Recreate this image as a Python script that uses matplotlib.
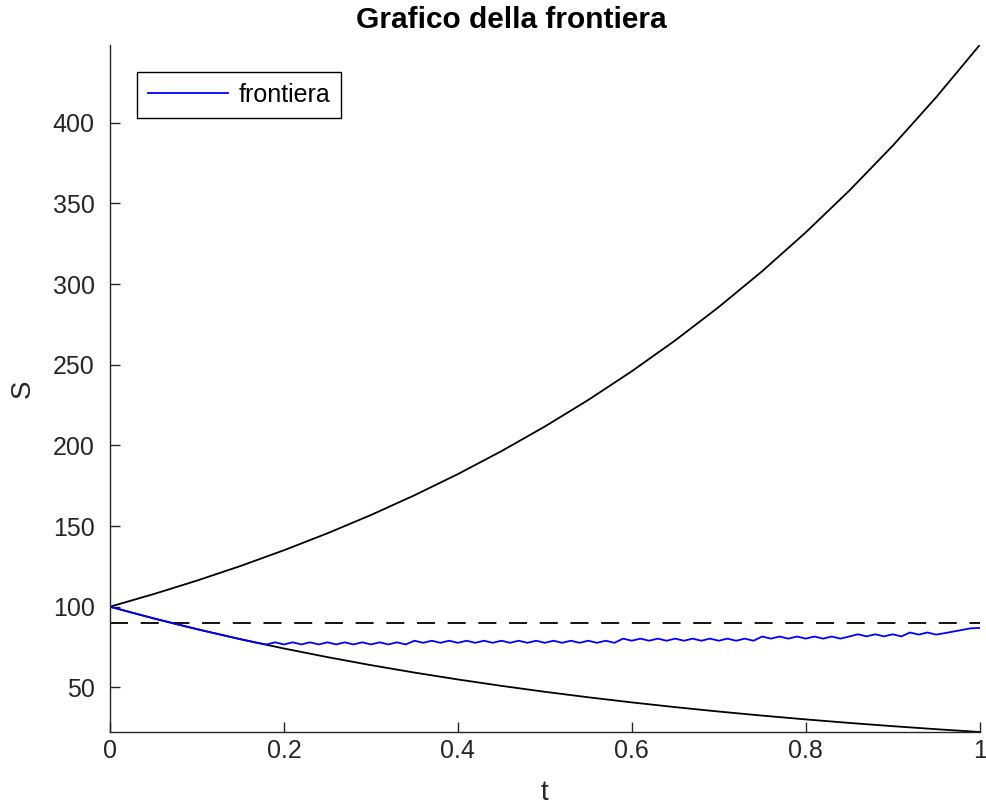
import matplotlib
matplotlib.use('Agg')
import matplotlib.pyplot as plt
import numpy as np

# boundary curves, sampled every 0.05
t_bound = [0.0, 0.05, 0.1, 0.15, 0.2, 0.25, 0.3, 0.35, 0.4, 0.45, 0.5,
           0.55, 0.6, 0.65, 0.7, 0.75, 0.8, 0.85, 0.9, 0.95, 1.0]
s_up = [100.0, 107.79, 116.18, 125.23, 134.99, 145.50, 156.83, 169.05, 182.21, 196.40, 211.70,
        228.18, 245.96, 265.12, 285.77, 308.02, 332.01, 357.87, 385.74, 415.79, 448.17]
s_down = [100.0, 92.77, 86.07, 79.85, 74.08, 68.73, 63.76, 59.16, 54.88, 50.92, 47.24,
          43.83, 40.66, 37.72, 34.99, 32.47, 30.12, 27.94, 25.92, 24.05, 22.31]

# strike line
t_strike = [0.0, 1.0]
s_strike = [90.0, 90.0]

# frontier, one value every 0.01
t_front = [i / 100 for i in range(101)]
s_front = [100.0, 98.51, 97.04, 95.60, 94.18, 92.77, 91.39, 90.03, 88.69, 87.36,
           86.07, 84.79, 83.53, 82.28, 81.06, 79.85, 78.66, 77.48,
           76.6, 77.9, 76.6, 77.9, 76.6, 77.9, 76.6, 77.9, 76.6, 77.9,
           76.6, 77.9, 76.6, 77.9, 76.6, 77.9, 76.6,
           78.9, 77.6, 78.9, 77.6, 78.9, 77.6, 78.9, 77.6, 78.9, 77.6,
           78.9, 77.6, 78.9, 77.6, 78.9, 77.6, 78.9, 77.6, 78.9, 77.6,
           78.9, 77.6, 78.9, 77.6,
           80.2, 78.9, 80.2, 78.9, 80.2, 78.9, 80.2, 78.9, 80.2, 78.9,
           80.2, 78.9, 80.2, 78.9, 80.2, 78.9,
           81.5, 80.2, 81.5, 80.2, 81.5, 80.2, 81.5, 80.2, 81.5, 80.2, 81.5,
           82.9, 81.6, 82.9, 81.6, 82.9, 81.6,
           84.0, 82.7, 84.0, 82.7, 83.6,
           84.6, 85.6, 86.6, 86.8]

plt.rcParams['font.family'] = ['Liberation Sans', 'DejaVu Sans']

fig = plt.figure(figsize=(9.87, 8.10), dpi=100)
ax = fig.add_axes([0.1115, 0.0963, 0.881, 0.848])

ax.plot(t_bound, s_up, color='black', lw=1.3)
ax.plot(t_bound, s_down, color='black', lw=1.3)
ax.plot(t_strike, s_strike, color='black', lw=1.3, dashes=(10, 7))
ax.plot(t_front, s_front, color='#0000ff', lw=1.3, label='frontiera')

ax.set_xlim(0, 1)
ax.set_ylim(22.31, 448.17)
ax.set_xticks([0, 0.2, 0.4, 0.6, 0.8, 1])
ax.set_xticklabels(['0', '0.2', '0.4', '0.6', '0.8', '1'])
ax.set_yticks([50, 100, 150, 200, 250, 300, 350, 400])

for side in ['top', 'right']:
    ax.spines[side].set_visible(False)
for side in ['left', 'bottom']:
    ax.spines[side].set_color('#262626')
    ax.spines[side].set_linewidth(1.0)

ax.tick_params(direction='in', length=7, width=1, colors='#262626', labelsize=18,
               labelcolor='#262626')
ax.tick_params(axis='x', pad=5)
ax.tick_params(axis='y', pad=11)

# title sits a bit left of the axes centre, like the original
fig.text(0.518, 1 - 20 / 810, 'Grafico della frontiera', fontsize=21.5,
         fontweight='bold', ha='center', va='center')
ax.set_xlabel('t', fontsize=20, color='#262626', labelpad=12)
ax.set_ylabel('S', fontsize=20, color='#262626', labelpad=12)

leg = ax.legend(loc='upper left', bbox_to_anchor=(0.031, 0.961), borderaxespad=0,
                fancybox=False, framealpha=1, edgecolor='black', fontsize=18,
                handlelength=3.2, handletextpad=0.4, borderpad=0.45)
leg.get_frame().set_linewidth(1.0)

plt.savefig('out.png', dpi=100)
